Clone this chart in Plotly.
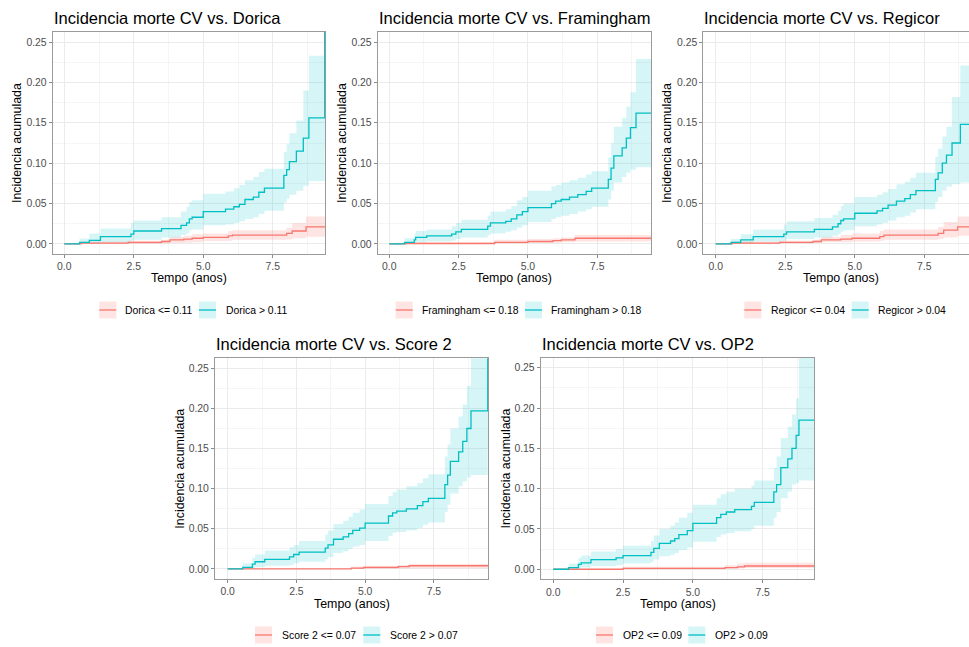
import plotly.graph_objects as go

W, H = 969, 647
FONT = "Liberation Sans, Arial, sans-serif"
RED, CYAN = "#F8766D", "#00BFC4"
RED_FILL, CYAN_FILL = "rgba(248,118,109,0.20)", "rgba(0,191,196,0.16)"

# ---------------- data (time in years, cumulative incidence) ----------------
# Dorica
dorica_low_t = [0, 0.6, 2.3, 3.5, 3.8, 4.3, 4.6, 5.0, 5.9, 6.05, 8.0, 8.2, 8.7, 9.6]
dorica_low_est = [0, 0.001, 0.002, 0.003, 0.005, 0.006, 0.007, 0.008, 0.010, 0.011, 0.013, 0.016, 0.021, 0.021]
dorica_low_lo = [0, 0, 0, 0.0005, 0.001, 0.0015, 0.002, 0.0035, 0.004, 0.005, 0.0055, 0.007, 0.009, 0.009]
dorica_low_up = [0, 0.003, 0.004, 0.005, 0.009, 0.010, 0.012, 0.013, 0.016, 0.017, 0.020, 0.026, 0.034, 0.034]
dorica_high_t = [0, 0.55, 0.9, 1.3, 2.4, 2.5, 3.5, 4.2, 4.4, 4.5, 4.6, 5.0, 5.8, 6.1, 6.3, 6.5, 6.8, 7.0, 7.2,
                 7.9, 8.0, 8.1, 8.35, 8.6, 8.8, 9.37, 9.6]
dorica_high_est = [0, 0.002, 0.0045, 0.009, 0.012, 0.016, 0.019, 0.023, 0.026, 0.031, 0.033, 0.040, 0.043, 0.046,
                   0.049, 0.055, 0.058, 0.064, 0.069, 0.085, 0.092, 0.102, 0.115, 0.131, 0.156, 0.30, 0.30]
dorica_high_lo = [0, 0, 0.001, 0.002, 0.004, 0.005, 0.008, 0.011, 0.013, 0.017, 0.018, 0.023, 0.024, 0.026, 0.028,
                  0.031, 0.033, 0.037, 0.041, 0.051, 0.056, 0.061, 0.066, 0.072, 0.078, 0.12, 0.12]
dorica_high_up = [0, 0.0066, 0.013, 0.019, 0.026, 0.029, 0.033, 0.040, 0.046, 0.052, 0.054, 0.062, 0.065, 0.069,
                  0.073, 0.079, 0.083, 0.089, 0.093, 0.114, 0.124, 0.137, 0.153, 0.190, 0.233, 0.50, 0.50]

# Framingham
fram_low_t = [0, 0.6, 3.8, 5.0, 5.9, 6.2, 6.7, 9.6]
fram_low_est = [0, 0.0005, 0.002, 0.003, 0.004, 0.005, 0.007, 0.007]
fram_low_lo = [0, 0, 0.0005, 0.001, 0.0015, 0.002, 0.003, 0.003]
fram_low_up = [0, 0.002, 0.005, 0.006, 0.007, 0.008, 0.011, 0.011]
fram_high_t = [0, 0.55, 0.9, 0.95, 1.35, 2.25, 2.4, 2.6, 3.55, 3.65, 4.2, 4.4, 4.6, 4.8, 5.0, 5.85, 6.0, 6.2,
               6.5, 6.8, 7.1, 7.3, 7.9, 8.0, 8.1, 8.4, 8.55, 8.7, 8.9, 9.6]
fram_high_est = [0, 0.002, 0.005, 0.008, 0.010, 0.012, 0.015, 0.018, 0.022, 0.026, 0.028, 0.031, 0.036, 0.040,
                 0.045, 0.050, 0.053, 0.055, 0.058, 0.061, 0.065, 0.069, 0.080, 0.094, 0.109, 0.119, 0.131,
                 0.144, 0.162, 0.162]
fram_high_lo = [0, 0, 0.001, 0.002, 0.003, 0.004, 0.006, 0.008, 0.011, 0.013, 0.015, 0.017, 0.020, 0.023, 0.027,
                0.031, 0.033, 0.035, 0.037, 0.040, 0.043, 0.046, 0.055, 0.066, 0.076, 0.083, 0.088, 0.092,
                0.095, 0.095]
fram_high_up = [0, 0.007, 0.012, 0.016, 0.018, 0.022, 0.026, 0.030, 0.035, 0.040, 0.043, 0.047, 0.054, 0.058,
                0.066, 0.071, 0.073, 0.076, 0.079, 0.082, 0.086, 0.090, 0.107, 0.125, 0.145, 0.156, 0.170,
                0.188, 0.229, 0.229]

# Regicor
regi_low_t = [0, 0.6, 2.3, 3.5, 3.8, 4.5, 4.9, 5.9, 6.05, 8.0, 8.2, 8.7, 9.6]
regi_low_est = [0, 0.001, 0.002, 0.003, 0.005, 0.006, 0.007, 0.009, 0.011, 0.013, 0.017, 0.021, 0.021]
regi_low_lo = [0, 0, 0.0005, 0.001, 0.002, 0.002, 0.003, 0.004, 0.005, 0.006, 0.008, 0.010, 0.010]
regi_low_up = [0, 0.003, 0.004, 0.005, 0.009, 0.011, 0.013, 0.016, 0.018, 0.021, 0.027, 0.034, 0.034]
regi_high_t = [0, 0.55, 0.9, 1.35, 2.45, 2.55, 3.55, 4.2, 4.4, 4.5, 4.6, 5.0, 5.8, 6.0, 6.2, 6.5, 6.8, 7.0,
               7.2, 7.9, 8.0, 8.15, 8.3, 8.5, 8.8, 9.6]
regi_high_est = [0, 0.002, 0.005, 0.009, 0.012, 0.015, 0.018, 0.021, 0.025, 0.029, 0.031, 0.038, 0.041, 0.044,
                 0.048, 0.053, 0.056, 0.061, 0.066, 0.080, 0.088, 0.100, 0.110, 0.125, 0.148, 0.148]
regi_high_lo = [0, 0, 0.001, 0.003, 0.004, 0.006, 0.008, 0.010, 0.012, 0.015, 0.017, 0.022, 0.024, 0.026, 0.029,
                0.033, 0.035, 0.039, 0.043, 0.052, 0.058, 0.066, 0.071, 0.074, 0.076, 0.076]
regi_high_up = [0, 0.006, 0.012, 0.018, 0.024, 0.028, 0.032, 0.036, 0.041, 0.047, 0.050, 0.058, 0.061, 0.064,
                0.068, 0.074, 0.077, 0.082, 0.088, 0.108, 0.118, 0.133, 0.145, 0.182, 0.221, 0.221]

# Score 2
score_low_t = [0, 4.5, 4.95, 6.2, 6.6, 9.6]
score_low_est = [0, 0.001, 0.002, 0.003, 0.004, 0.004]
score_low_lo = [0, 0, 0, 0.0007, 0.001, 0.001]
score_low_up = [0, 0.003, 0.004, 0.005, 0.0065, 0.0065]
score_high_t = [0, 0.55, 0.9, 1.0, 1.35, 2.25, 2.4, 2.6, 3.55, 3.65, 3.85, 4.2, 4.4, 4.55, 4.8, 5.0, 5.85, 6.0,
                6.15, 6.5, 6.9, 7.1, 7.3, 7.9, 8.0, 8.1, 8.4, 8.55, 8.7, 8.85, 9.46, 9.6]
score_high_est = [0, 0.002, 0.006, 0.009, 0.012, 0.015, 0.018, 0.021, 0.026, 0.030, 0.037, 0.040, 0.044, 0.048,
                  0.051, 0.057, 0.066, 0.070, 0.072, 0.075, 0.079, 0.084, 0.088, 0.105, 0.117, 0.134, 0.146,
                  0.159, 0.175, 0.197, 0.32, 0.32]
score_high_lo = [0, 0, 0.001, 0.002, 0.004, 0.005, 0.007, 0.009, 0.012, 0.015, 0.020, 0.022, 0.025, 0.028, 0.030,
                 0.035, 0.041, 0.045, 0.046, 0.048, 0.051, 0.055, 0.058, 0.071, 0.080, 0.094, 0.103, 0.109,
                 0.114, 0.117, 0.15, 0.15]
score_high_up = [0, 0.007, 0.014, 0.018, 0.023, 0.027, 0.030, 0.035, 0.043, 0.048, 0.056, 0.060, 0.065, 0.070,
                 0.074, 0.081, 0.091, 0.096, 0.099, 0.103, 0.107, 0.113, 0.118, 0.140, 0.155, 0.175, 0.190,
                 0.205, 0.228, 0.275, 0.50, 0.50]

# OP2
op2_low_t = [0, 2.5, 6.15, 6.6, 6.85, 9.6]
op2_low_est = [0, 0.001, 0.002, 0.003, 0.004, 0.004]
op2_low_lo = [0, 0, 0.0005, 0.001, 0.0015, 0.0015]
op2_low_up = [0, 0.003, 0.005, 0.007, 0.008, 0.008]
op2_high_t = [0, 0.55, 0.9, 1.0, 1.35, 2.25, 2.5, 3.5, 3.6, 3.8, 4.2, 4.35, 4.5, 4.8, 5.0, 5.85, 6.0, 6.2, 6.5,
              7.1, 7.2, 7.9, 8.0, 8.15, 8.4, 8.55, 8.7, 8.8, 9.6]
op2_high_est = [0, 0.002, 0.006, 0.008, 0.012, 0.014, 0.017, 0.021, 0.026, 0.032, 0.035, 0.038, 0.043, 0.048,
                0.057, 0.064, 0.068, 0.071, 0.074, 0.078, 0.083, 0.096, 0.105, 0.126, 0.137, 0.150, 0.166,
                0.185, 0.185]
op2_high_lo = [0, 0, 0.001, 0.002, 0.004, 0.005, 0.007, 0.009, 0.012, 0.016, 0.018, 0.020, 0.024, 0.027, 0.034,
               0.040, 0.043, 0.045, 0.047, 0.050, 0.054, 0.064, 0.071, 0.088, 0.096, 0.105, 0.107, 0.110, 0.110]
op2_high_up = [0, 0.007, 0.014, 0.017, 0.022, 0.025, 0.029, 0.035, 0.042, 0.050, 0.054, 0.058, 0.064, 0.070,
               0.080, 0.088, 0.093, 0.096, 0.100, 0.104, 0.110, 0.126, 0.140, 0.163, 0.177, 0.192, 0.212,
               0.270, 0.270]

titles = ["Incidencia morte CV vs. Dorica", "Incidencia morte CV vs. Framingham",
          "Incidencia morte CV vs. Regicor", "Incidencia morte CV vs. Score 2",
          "Incidencia morte CV vs. OP2"]
legend_labels = [("Dorica <= 0.11", "Dorica > 0.11"), ("Framingham <= 0.18", "Framingham > 0.18"),
                 ("Regicor <= 0.04", "Regicor > 0.04"), ("Score 2 <= 0.07", "Score 2 > 0.07"),
                 ("OP2 <= 0.09", "OP2 > 0.09")]
x_ticks = [0, 2.5, 5, 7.5]
x_ticktext = ["0.0", "2.5", "5.0", "7.5"]
y_ticks = [0, 0.05, 0.10, 0.15, 0.20, 0.25]
y_ticktext = ["0.00", "0.05", "0.10", "0.15", "0.20", "0.25"]
x_title = "Tempo (anos)"
y_title = "Incidencia acumulada"

series = [
    ((dorica_low_t, dorica_low_est, dorica_low_lo, dorica_low_up),
     (dorica_high_t, dorica_high_est, dorica_high_lo, dorica_high_up)),
    ((fram_low_t, fram_low_est, fram_low_lo, fram_low_up),
     (fram_high_t, fram_high_est, fram_high_lo, fram_high_up)),
    ((regi_low_t, regi_low_est, regi_low_lo, regi_low_up),
     (regi_high_t, regi_high_est, regi_high_lo, regi_high_up)),
    ((score_low_t, score_low_est, score_low_lo, score_low_up),
     (score_high_t, score_high_est, score_high_lo, score_high_up)),
    ((op2_low_t, op2_low_est, op2_low_lo, op2_low_up),
     (op2_high_t, op2_high_est, op2_high_lo, op2_high_up)),
]

# ---------------- layout geometry (pixels) ----------------
panels = [
    dict(px=(52.7, 325), py=(32, 254), xr=[-0.417, 9.38], ytx=17, xtc=188.8, xty=278, legy=310,
         keys=(99.3, 199), texts=(123.3, 224), right=True),
    dict(px=(377.7, 651), py=(32, 254), xr=[-0.418, 9.44], ytx=342, xtc=514.3, xty=278, legy=310,
         keys=(395.7, 525), texts=(420, 549.3), right=True),
    dict(px=(703.3, 969), py=(32, 254), xr=[-0.446, 9.11], ytx=667, xtc=840.5, xty=278, legy=310,
         keys=(744.3, 851.7), texts=(769, 876), right=False),
    dict(px=(215, 488.3), py=(358.3, 579), xr=[-0.46, 9.48], ytx=180, xtc=351.6, xty=604, legy=635,
         keys=(255, 363.3), texts=(280, 387.7), right=True),
    dict(px=(540.7, 814.3), py=(357.7, 579.3), xr=[-0.45, 9.35], ytx=505, xtc=677.5, xty=604, legy=635,
         keys=(596, 688.3), texts=(620.7, 712.7), right=True),
]


def px_x(v):
    return v / W


def px_y(v):
    return 1 - v / H


fig = go.Figure()
annotations, shapes = [], []
layout = {}

for i, (p, (low, high)) in enumerate(zip(panels, series)):
    n = "" if i == 0 else str(i + 1)
    xa, ya = "x" + n, "y" + n
    for (t, est, lo, up), col, fill in ((low, RED, RED_FILL), (high, CYAN, CYAN_FILL)):
        fig.add_trace(go.Scatter(x=t, y=lo, mode="lines", line=dict(width=0, shape="hv"),
                                 showlegend=False, hoverinfo="skip", xaxis=xa, yaxis=ya))
        fig.add_trace(go.Scatter(x=t, y=up, mode="lines", line=dict(width=0, shape="hv"),
                                 fill="tonexty", fillcolor=fill, showlegend=False,
                                 hoverinfo="skip", xaxis=xa, yaxis=ya))
    for (t, est, lo, up), col in ((low, RED), (high, CYAN)):
        fig.add_trace(go.Scatter(x=t, y=est, mode="lines", line=dict(width=1.3, color=col, shape="hv"),
                                 showlegend=False, xaxis=xa, yaxis=ya))

    common = dict(showline=True, linecolor="#9A9A9A", linewidth=1, ticks="outside", ticklen=3,
                  tickcolor="#8A8A8A", tickwidth=1, showgrid=True, gridcolor="#EBEBEB", gridwidth=1,
                  zeroline=False, tickfont=dict(family=FONT, size=10.4, color="#4D4D4D"))
    layout["xaxis" + n] = dict(common, domain=[px_x(p["px"][0]), px_x(p["px"][1])], range=p["xr"],
                               anchor=ya, mirror=True, tickvals=x_ticks, ticktext=x_ticktext,
                               minor=dict(tickvals=[1.25, 3.75, 6.25, 8.75], showgrid=True,
                                          gridcolor="#F5F5F5", gridwidth=0.8, ticks=""))
    layout["yaxis" + n] = dict(common, domain=[px_y(p["py"][1]), px_y(p["py"][0])], range=[-0.0125, 0.2625],
                               anchor=xa, mirror=p["right"], tickvals=y_ticks, ticktext=y_ticktext,
                               minor=dict(tickvals=[0.025, 0.075, 0.125, 0.175, 0.225], showgrid=True,
                                          gridcolor="#F5F5F5", gridwidth=0.8, ticks=""))

    ycen = (p["py"][0] + p["py"][1]) / 2
    annotations += [
        dict(text=titles[i], x=px_x(p["px"][0] - 1), y=px_y(18.3 if p["py"][0] < 100 else 344),
             xref="paper", yref="paper", xanchor="left", yanchor="middle", showarrow=False,
             font=dict(family=FONT, size=16.5, color="#000000")),
        dict(text=x_title, x=px_x(p["xtc"]), y=px_y(p["xty"]), xref="paper", yref="paper",
             xanchor="center", yanchor="middle", showarrow=False,
             font=dict(family=FONT, size=12.4, color="#000000")),
        dict(text=y_title, x=px_x(p["ytx"]), y=px_y(ycen), xref="paper", yref="paper", textangle=-90,
             xanchor="center", yanchor="middle", showarrow=False,
             font=dict(family=FONT, size=12.4, color="#000000")),
    ]
    for k, (col, fill) in enumerate(((RED, RED_FILL), (CYAN, CYAN_FILL))):
        kx = p["keys"][k]
        ky = p["legy"]
        shapes.append(dict(type="rect", xref="paper", yref="paper", x0=px_x(kx), x1=px_x(kx + 17),
                           y0=px_y(ky + 8.5), y1=px_y(ky - 8.5), fillcolor=fill, line=dict(width=0)))
        shapes.append(dict(type="line", xref="paper", yref="paper", x0=px_x(kx), x1=px_x(kx + 17),
                           y0=px_y(ky), y1=px_y(ky), line=dict(color=col, width=1.3)))
        annotations.append(dict(text=legend_labels[i][k], x=px_x(p["texts"][k]), y=px_y(ky),
                                xref="paper", yref="paper", xanchor="left", yanchor="middle",
                                showarrow=False, font=dict(family=FONT, size=10.4, color="#000000")))

fig.update_layout(width=W, height=H, autosize=False, margin=dict(l=0, r=0, t=0, b=0),
                  paper_bgcolor="white", plot_bgcolor="white", showlegend=False,
                  annotations=annotations, shapes=shapes, **layout)
fig.write_html("out.html", config={"displayModeBar": False},
               post_script="document.body.style.margin='0';document.body.style.padding='0';"
                           "document.documentElement.style.overflow='hidden';")
